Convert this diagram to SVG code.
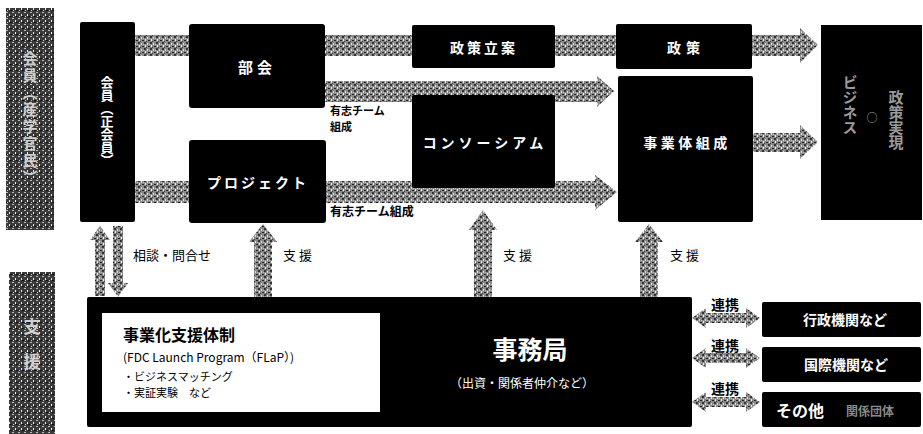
<svg xmlns="http://www.w3.org/2000/svg" width="923" height="434" viewBox="0 0 923 434">
<defs>
<pattern id="tex" width="6" height="6" patternUnits="userSpaceOnUse">
<rect width="6" height="6" fill="#8a8a8a"/>
<rect x="0" y="0" width="2" height="2" fill="#333"/>
<rect x="3" y="1" width="1" height="2" fill="#ddd"/>
<rect x="4" y="4" width="2" height="1" fill="#222"/>
<rect x="1" y="3" width="1" height="2" fill="#eee"/>
<rect x="2" y="5" width="1" height="1" fill="#444"/>
<rect x="5" y="2" width="1" height="1" fill="#bbb"/>
</pattern>
<pattern id="texd" width="6" height="6" patternUnits="userSpaceOnUse">
<rect width="6" height="6" fill="#3a3a3a"/>
<rect x="0" y="0" width="2" height="1" fill="#bbb"/>
<rect x="3" y="2" width="1" height="2" fill="#eee"/>
<rect x="4" y="4" width="2" height="1" fill="#111"/>
<rect x="1" y="4" width="1" height="1" fill="#ccc"/>
</pattern>
</defs>
<style>
.box{fill:#000}
.arr{fill:url(#tex)}
.lbl{font-family:"Noto Sans CJK JP","Noto Sans",sans-serif;font-weight:700;fill:#fff;text-anchor:middle;dominant-baseline:central}
.blk{font-family:"Noto Sans CJK JP","Noto Sans",sans-serif;font-weight:700;fill:#000}
.vt{writing-mode:vertical-rl}
</style>
<rect width="923" height="434" fill="#fff"/>

<!-- side strips -->
<g id="strip-top">
<rect x="6" y="8" width="48" height="222" fill="url(#texd)"/>
<text class="lbl vt" x="30" y="119" font-size="15" style="fill:#cfcfcf" letter-spacing="2">会員（産学官民）</text>
</g>
<g id="strip-bottom">
<rect x="9" y="272" width="46" height="162" fill="url(#texd)"/>
<text class="lbl vt" x="32" y="353" font-size="17" style="fill:#cfcfcf" letter-spacing="18">支援</text>
</g>

<!-- connectors -->
<g id="connectors">
<path class="arr" d="M135 35 H800 V28 L818 45 L800 63 V56 H135 Z"/>
<path class="arr" d="M325 81 H597 V76 L614 91 L597 107 V102 H325 Z"/>
<path class="arr" d="M135 181 H595 V175 L617 192 L595 210 V203 H135 Z"/>
<path class="arr" d="M753 133 H800 V125 L818 142 L800 159 V152 H753 Z"/>
<path class="arr" d="M95 296 V240 H90 L100 226 L110 240 H105 V296 Z"/>
<path class="arr" d="M113 226 V283 H108 L118 297 L128 283 H123 V226 Z"/>
<path class="arr" d="M254 297 V242 H249 L263 224 L277 242 H272 V297 Z"/>
<path class="arr" d="M474 297 V230 H469 L483 210 L497 230 H492 V297 Z"/>
<path class="arr" d="M640 297 V242 H635 L649 224 L663 242 H658 V297 Z"/>
<path class="arr" d="M692 318 L706 308 V313 H746 V308 L760 318 L746 328 V323 H706 V328 Z"/>
<path class="arr" d="M692 358 L706 348 V353 H746 V348 L760 358 L746 368 V363 H706 V368 Z"/>
<path class="arr" d="M692 402 L706 392 V397 H746 V392 L760 402 L746 412 V407 H706 V412 Z"/>
<text class="blk" x="330" y="115" font-size="11">有志チーム</text>
<text class="blk" x="330" y="131" font-size="11">組成</text>
<text class="blk" x="330" y="216" font-size="12">有志チーム組成</text>
<text class="blk" x="133" y="260" font-size="13" style="font-weight:400">相談・問合せ</text>
<text class="blk" x="283" y="260" font-size="13" letter-spacing="3" style="font-weight:400">支援</text>
<text class="blk" x="503" y="260" font-size="13" letter-spacing="3" style="font-weight:400">支援</text>
<text class="blk" x="670" y="260" font-size="13" letter-spacing="3" style="font-weight:400">支援</text>
<text class="blk" x="725" y="310" font-size="14" text-anchor="middle">連携</text>
<text class="blk" x="725" y="351" font-size="14" text-anchor="middle">連携</text>
<text class="blk" x="725" y="394" font-size="14" text-anchor="middle">連携</text>
</g>

<!-- nodes -->
<g id="kaiin">
<rect class="box" x="80" y="22" width="55" height="200" rx="2"/>
<text class="lbl vt" x="107" y="121" font-size="13">会員（正会員）</text>
</g>
<g id="bukai">
<rect class="box" x="189" y="24" width="136" height="84" rx="3"/>
<text class="lbl" x="257" y="66" font-size="15" letter-spacing="4">部会</text>
</g>
<g id="project">
<rect class="box" x="189" y="140" width="137" height="83" rx="3"/>
<text class="lbl" x="258" y="182" font-size="14" letter-spacing="3">プロジェクト</text>
</g>
<g id="seisaku-ritsuan">
<rect class="box" x="412" y="25" width="143" height="43" rx="2"/>
<text class="lbl" x="484" y="47" font-size="14" letter-spacing="3">政策立案</text>
</g>
<g id="consortium">
<rect class="box" x="412" y="95" width="143" height="93" rx="2"/>
<text class="lbl" x="485" y="142" font-size="14" letter-spacing="4">コンソーシアム</text>
</g>
<g id="seisaku">
<rect class="box" x="616" y="24" width="136" height="45" rx="2"/>
<text class="lbl" x="686" y="47" font-size="14" letter-spacing="5">政策</text>
</g>
<g id="jigyotai">
<rect class="box" x="618" y="76" width="135" height="146" rx="2"/>
<text class="lbl" x="687" y="142" font-size="14" letter-spacing="3.5">事業体組成</text>
</g>
<g id="result">
<rect class="box" x="821" y="25" width="101" height="195"/>
<text class="lbl vt" x="850" y="105" font-size="15" style="fill:#9a9a9a">ビジネス</text>
<text class="lbl" x="872" y="117" font-size="11" style="fill:#9a9a9a">○</text>
<text class="lbl vt" x="896" y="120" font-size="15" style="fill:#9a9a9a">政策実現</text>
</g>
<g id="jimukyoku">
<rect class="box" x="87" y="297" width="605" height="130" rx="2"/>
<rect x="102" y="313" width="278" height="99" fill="#fff"/>
<text class="blk" x="123" y="341" font-size="16">事業化支援体制</text>
<text class="blk" x="123" y="362" font-size="12" style="font-weight:400">(FDC Launch Program（FLaP）)</text>
<text class="blk" x="123" y="381" font-size="11" style="font-weight:400">・ビジネスマッチング</text>
<text class="blk" x="123" y="397" font-size="11" style="font-weight:400">・実証実験　など</text>
<text class="lbl" x="530" y="348" font-size="25">事務局</text>
<text class="lbl" x="522" y="382" font-size="12" style="font-weight:400">（出資・関係者仲介など）</text>
</g>
<g id="gyosei">
<rect class="box" x="762" y="302" width="159" height="35" rx="2"/>
<text class="lbl" x="845" y="319" font-size="14">行政機関など</text>
</g>
<g id="kokusai">
<rect class="box" x="762" y="347" width="159" height="35" rx="2"/>
<text class="lbl" x="846" y="364" font-size="14">国際機関など</text>
</g>
<g id="sonota">
<rect class="box" x="762" y="392" width="159" height="35" rx="2"/>
<text class="lbl" x="800" y="410" font-size="16">その他</text>
<text class="lbl" x="870" y="410" font-size="12" style="fill:#8a8a8a">関係団体</text>
</g>
</svg>
